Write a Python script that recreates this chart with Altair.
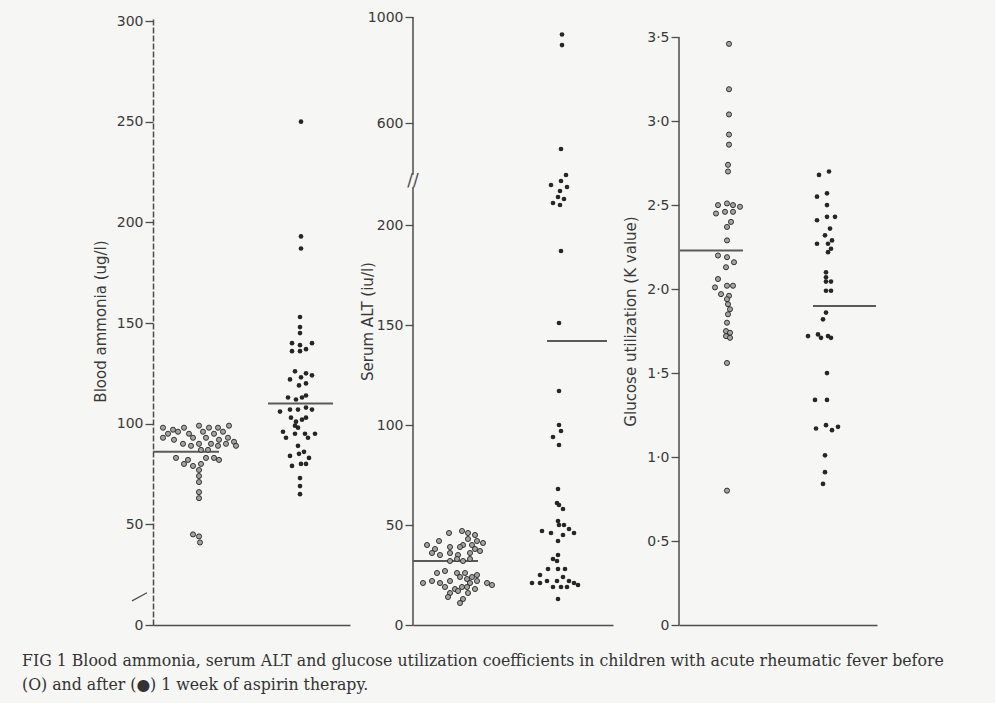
import altair as alt
import pandas as pd

# ---------------------------------------------------------------
# Blood ammonia (ug/l): before / after one week of aspirin
# ---------------------------------------------------------------
ammonia_before = [98, 97, 98, 99, 98, 98, 99,
                  95, 96, 95, 96, 95, 96,
                  93, 92, 93, 93, 92, 93, 91,
                  90, 89, 90, 90, 89, 90, 89,
                  87, 87,
                  83, 82, 83, 83, 82,
                  80, 79, 80,
                  77, 74, 71, 66, 63,
                  45, 44, 41]
ammonia_before_spread = [-35, -25, -14, 1, 11, 20, 31,
                         -30, -20, -9, 5, 16, 25,
                         -35, -24, -5, 8, 21, 30, 36,
                         -15, -7, 1, 13, 20, 28, 38,
                         3, 10,
                         -22, -10, 8, 16, 21,
                         -14, -5, 3,
                         1, 1, 1, 1, 1,
                         -5, 1, 2]
ammonia_after = [250, 193, 187, 153, 148, 145, 140, 139, 140, 136, 136, 137,
                 126, 125, 124, 122, 123, 120, 119, 113, 112, 113, 114,
                 106, 107, 107, 108, 107, 103, 101, 102, 103, 99, 98,
                 96, 95, 95, 93, 95, 93, 89, 86, 85, 84, 83, 79, 80, 80,
                 73, 69, 65]
ammonia_after_spread = [2, 2, 2, 1, 1, 1, -7, 1, 13, -7, 1, 7,
                        -4, 7, 13, -9, 2, 7, 0, -11, -3, 3, 7,
                        -19, -9, -1, 7, 13, -8, -3, 3, 7, -4, -1,
                        -16, -4, 6, 9, 16, -13, -1, 5, 0, -9, 10, -7, 2, 7,
                        1, 1, 1]
ammonia_means = [86, 110]

# ---------------------------------------------------------------
# Serum ALT (iu/l)
# ---------------------------------------------------------------
alt_before = [46, 47, 46, 45,
              42, 43, 42, 41,
              40, 39, 40, 40,
              38, 39, 38, 37,
              36, 35, 36, 35, 36,
              32, 33, 32, 33,
              26, 27, 26, 26, 25,
              24, 23, 24,
              21, 22, 21, 22, 21, 22, 21, 20,
              19, 18, 19, 19, 18,
              16, 17, 16,
              14, 13,
              11]
alt_before_spread = [-8, 5, 11, 18,
                     -18, 11, 20, 26,
                     -30, -7, 6, 15,
                     -22, 3, 18, 23,
                     -25, -17, -7, 1, 13,
                     -7, 0, 6, 13,
                     -20, -12, 0, 8, 20,
                     3, 10, 15,
                     -34, -25, -17, -7, 13, 20, 30, 35,
                     -12, -2, 5, 10, 18,
                     -7, 1, 11,
                     -9, 6,
                     3]
alt_after = [934, 894, 502, 225, 222, 220, 219, 217, 214, 213, 211, 210,
             187, 151, 117, 100, 97, 94, 90, 68, 61, 60, 58, 52,
             50, 50, 48, 47, 46, 45, 46, 42, 35, 33, 32, 28, 28, 28,
             25, 24, 22, 22, 22, 21, 21, 21, 20, 19, 19, 19, 13]
alt_after_spread = [2, 2, 1, 6, 1, -9, 7, 0, -2, 4, -7, 0,
                    1, -1, -1, -1, 1, -7, -1, -2, -3, -1, 3, -2,
                    -1, 4, 9, -18, -9, 3, 14, -2, -2, -7, -3, -12, -2, 5,
                    -20, 3, -13, -3, 9, -28, -20, 14, 18, -7, 1, 7, -2]
alt_means = [32, 142]
alt_ticks = [0, 50, 100, 150, 200, 600, 1000]

# ---------------------------------------------------------------
# Glucose utilization (K value)
# ---------------------------------------------------------------
glucose_before = [3.46, 3.19, 3.04, 2.92, 2.86, 2.74, 2.70,
                  2.50, 2.51, 2.50, 2.49, 2.45, 2.46, 2.46, 2.40, 2.37, 2.29,
                  2.20, 2.19, 2.16, 2.13, 2.06, 2.01, 2.02, 2.02, 1.97, 1.96,
                  1.94, 1.91, 1.88, 1.85, 1.80, 1.75, 1.74, 1.72, 1.71,
                  1.56, 0.80]
glucose_before_spread = [2, 2, 2, 2, 2, 1, 1,
                         -9, 0, 6, 13, -11, -2, 6, 4, 0, 0,
                         -9, 0, 7, -1, -9, -12, 0, 6, -6, 2,
                         0, 1, 3, 1, 0, -1, 3, -1, 3,
                         0, 0]
glucose_after = [2.70, 2.68, 2.57, 2.55, 2.50, 2.43, 2.43, 2.41, 2.36,
                 2.32, 2.29, 2.27, 2.27, 2.24, 2.22, 2.10, 2.07, 2.045, 2.045,
                 1.99, 1.99, 1.86, 1.82, 1.72, 1.73, 1.71, 1.72, 1.71,
                 1.50, 1.34, 1.34, 1.17, 1.19, 1.16, 1.18, 1.01, 0.91, 0.84]
glucose_after_spread = [3, -7, 1, -9, 1, 1, 9, -9, 4,
                        -1, 6, -9, 2, 5, 2, 0, 0, 0, 5,
                        0, 5, 0, -3, -18, -8, -5, 2, 5,
                        1, -11, 1, -10, 0, 6, 12, -1, -1, -3]
glucose_means = [2.23, 1.90]

caption_lines = [
    "FIG 1  Blood ammonia, serum ALT and glucose utilization coefficients in children with acute rheumatic fever before",
    "(O) and after (\u25cf) 1 week of aspirin therapy.",
]

# ---------------------------------------------------------------
# styling / layout
# ---------------------------------------------------------------
PAPER = "#f6f6f4"
INK = "#262626"
AXIS_INK = "#4d4d4d"
HOLLOW = "#a3a3a3"
FONT = "DejaVu Sans"
H = 608


def dots(values, spread, centre):
    return pd.DataFrame({"v": values, "x": [centre + s for s in spread]})


def mean_bars(means, spans):
    return pd.DataFrame({"v": means,
                         "x": [s[0] for s in spans],
                         "x2": [s[1] for s in spans]})


def y_axis(title, values, title_x, **kw):
    return alt.Axis(values=values, title=title, titleX=title_x, titleY=H / 2,
                    tickSize=8, tickWidth=1.3, tickColor=AXIS_INK,
                    labelFont=FONT, labelFontSize=14, labelColor="#3a3a3a",
                    labelPadding=2, titleFont=FONT, titleFontSize=15,
                    titleFontWeight="normal", titleColor="#3a3a3a",
                    grid=False, **kw)


x_axis = alt.Axis(labels=False, ticks=False, title=None, grid=False,
                  domainColor=AXIS_INK, domainWidth=1.5)


def x_enc(width):
    return alt.X("x:Q", scale=alt.Scale(domain=[0, width], nice=False, zero=False),
                 axis=x_axis)


def layer_marks(y, x, before_df, after_df, mean_df, calc=None):
    def prep(ch):
        return ch.transform_calculate(**calc) if calc else ch
    means = prep(alt.Chart(mean_df)).mark_rule(color="#5a5a5a", strokeWidth=2).encode(
        x=x, x2="x2:Q", y=y)
    before = prep(alt.Chart(before_df)).mark_point(
        shape="circle", filled=True, size=26, fill=HOLLOW, stroke=INK,
        strokeWidth=0.9, opacity=1).encode(x=x, y=y)
    after = prep(alt.Chart(after_df)).mark_circle(size=22, color=INK, opacity=1).encode(x=x, y=y)
    return [means, before, after]


# ---- panel 1: blood ammonia ----
W1 = 197
x1 = x_enc(W1)
y1 = alt.Y("v:Q", scale=alt.Scale(domain=[0, 302], nice=False),
           axis=y_axis("Blood ammonia (ug/l)", list(range(0, 301, 50)), -45,
                       domainColor=AXIS_INK, domainWidth=1.5, domainDash=[6, 2]))
# short slash beside the foot of the axis
slash1 = alt.Chart(pd.DataFrame({"x": [-21], "x2": [-6], "v": [12], "v2": [16]})).mark_rule(
    color=AXIS_INK, strokeWidth=1.3).encode(x=x1, x2="x2:Q", y=y1, y2="v2:Q")
p1 = alt.layer(slash1, *layer_marks(
    y1, x1,
    dots(ammonia_before, ammonia_before_spread, 45),
    dots(ammonia_after, ammonia_after_spread, 146),
    mean_bars(ammonia_means, [(0, 66), (115, 180)]),
)).properties(width=W1, height=H)

# ---- panel 2: serum ALT, axis broken between ~220 and ~400 ----
W2 = 200
x2 = x_enc(W2)
broken = {"d": "datum.v <= 300 ? datum.v : 251 + (datum.v - 600) * 0.1325"}
broken_pair = {"d": "datum.v <= 300 ? datum.v : 251 + (datum.v - 600) * 0.1325",
               "d2": "datum.v2 <= 300 ? datum.v2 : 251 + (datum.v2 - 600) * 0.1325"}
tick_pos = [t if t <= 300 else 251 + (t - 600) * 0.1325 for t in alt_ticks]
label_expr = " : ".join(
    [f"abs(datum.value - {p}) < 0.01 ? '{t}'" for p, t in zip(tick_pos, alt_ticks)]
) + " : ''"
y2 = alt.Y("d:Q", scale=alt.Scale(domain=[0, 304], nice=False),
           axis=y_axis("Serum ALT (iu/l)", tick_pos, -38, domain=False,
                       labelExpr=label_expr))
segments = pd.DataFrame({"x": [0, 0], "v": [0, 405], "v2": [219, 1000]})
axis_line2 = alt.Chart(segments).transform_calculate(**broken_pair).mark_rule(
    color=AXIS_INK, strokeWidth=1.5).encode(x=x2, y=y2, y2="d2:Q")
break_mark = alt.Chart(pd.DataFrame({"x": [0], "v": [222]})).transform_calculate(
    **broken).mark_text(text="//", fontSize=17, font=FONT, color=AXIS_INK,
                        align="center", baseline="middle").encode(x=x2, y=y2)
p2 = alt.layer(axis_line2, break_mark, *layer_marks(
    y2, x2,
    dots(alt_before, alt_before_spread, 44),
    dots(alt_after, alt_after_spread, 147),
    mean_bars(alt_means, [(0, 65), (134, 194)]),
    calc=broken,
)).properties(width=W2, height=H)

# ---- panel 3: glucose utilization ----
W3 = 198
x3 = x_enc(W3)
y3 = alt.Y("v:Q", scale=alt.Scale(domain=[0, 3.62], nice=False),
           axis=y_axis("Glucose utilization (K value)", [0, 0.5, 1, 1.5, 2, 2.5, 3, 3.5],
                       -41, domain=False,
                       labelExpr="datum.value == 0 ? '0' : replace(format(datum.value, '.1f'), '.', '\u00b7')"))
axis_line3 = alt.Chart(pd.DataFrame({"x": [0], "v": [0], "v2": [3.5]})).mark_rule(
    color=AXIS_INK, strokeWidth=1.5).encode(x=x3, y=y3, y2="v2:Q")
p3 = alt.layer(axis_line3, *layer_marks(
    y3, x3,
    dots(glucose_before, glucose_before_spread, 48),
    dots(glucose_after, glucose_after_spread, 147),
    mean_bars(glucose_means, [(1, 64), (134, 197)]),
)).properties(width=W3, height=H)

caption = alt.TitleParams(
    text=caption_lines, orient="bottom", anchor="start",
    font="DejaVu Serif", fontSize=15.75, fontWeight="normal", color="#333333",
    lineHeight=24, offset=22, dx=-71,
)

chart = alt.hconcat(p1, p2, p3, spacing=10, title=caption).properties(
    background=PAPER,
    padding={"left": 22, "top": 10, "right": 46, "bottom": 10},
).configure_view(stroke=None)

chart.save("out.html", embed_options={"renderer": "svg", "actions": False})
